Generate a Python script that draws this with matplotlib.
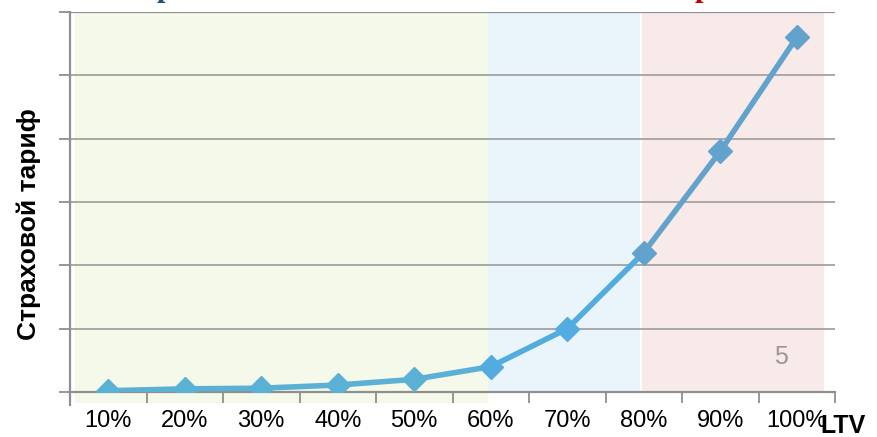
import matplotlib
matplotlib.use('Agg')
import matplotlib.pyplot as plt
from matplotlib.patches import Rectangle

plt.rcParams['font.family'] = ['Liberation Sans', 'DejaVu Sans']

# LTV categories and insurance rate (relative units, one grid step = 1)
ltv_labels = ['10%', '20%', '30%', '40%', '50%', '60%', '70%', '80%', '90%', '100%']
tariff = [0.02, 0.05, 0.06, 0.11, 0.2, 0.4, 1.0, 2.2, 3.8, 5.6]

# background zones: (start, end, colour) in category units
zones = [(-0.43, 4.96, '#f5f9ea'), (4.96, 6.95, '#eaf5fb'), (6.98, 9.35, '#f9eaea')]
line_colors = ['#5bb0d5', '#52acdf', '#62a3ce']

fig = plt.figure(figsize=(8.77, 4.37), dpi=100)
ax = fig.add_axes([70 / 877, 1 - 392 / 437, 765 / 877, 380 / 437])

x = list(range(len(ltv_labels)))
ax.set_xlim(-0.5, 9.5)
ax.set_ylim(0, 6)

# zones (green one runs a bit below the axis)
for i, (x0, x1, c) in enumerate(zones):
    y0 = -0.17 if i == 0 else 0
    ax.add_patch(Rectangle((x0, y0), x1 - x0, 6 - y0, facecolor=c, edgecolor='none',
                           clip_on=False, zorder=0))

for g in range(1, 7):
    ax.axhline(g, color='#8f8f8f' if g == 6 else '#a3a3a3', lw=1.6 if g == 6 else 1.3, zorder=1)

# line, coloured per zone
for i in range(len(x) - 1):
    mid = (x[i] + x[i + 1]) / 2
    c = line_colors[0] if mid < 4.96 else (line_colors[1] if mid < 6.97 else line_colors[2])
    ax.plot(x[i:i + 2], tariff[i:i + 2], color=c, lw=4, solid_capstyle='round', zorder=3)
for i in range(len(x)):
    c = line_colors[0] if x[i] < 4.96 else (line_colors[1] if x[i] < 6.97 else line_colors[2])
    ax.plot(x[i], tariff[i], marker='D', ms=12, color=c, mec=c, zorder=4)

for s in ['top', 'right']:
    ax.spines[s].set_visible(False)
ax.spines['left'].set_color('#8f8f8f')
ax.spines['bottom'].set_color('#8f8f8f')
ax.spines['left'].set_linewidth(1.6)
ax.spines['bottom'].set_linewidth(1.6)
ax.spines['left'].set_bounds(-0.2, 6)

ax.set_yticks(range(0, 7))
ax.set_yticklabels([])
ax.tick_params(axis='y', length=8, color='#8f8f8f', width=1.3)

ax.set_xticks([i + 0.5 for i in range(-1, 10)])
ax.set_xticklabels([])
ax.set_xticks(x, minor=True)
ax.set_xticklabels(ltv_labels, minor=True, fontsize=17)
ax.tick_params(axis='x', which='major', length=8, color='#8f8f8f', width=1.3)
ax.tick_params(axis='x', which='minor', length=0, pad=13)

fig.text(29 / 877, 1 - 224 / 437, 'Страховой тариф', rotation=90, ha='center', va='center',
         fontsize=19, fontweight='bold')
fig.text(843 / 877, 1 - 426 / 437, 'LTV', ha='center', va='center', fontsize=18, fontweight='bold')
ax.text(8.8, 0.55, '5', color='#a09595', fontsize=18, ha='center', va='center', zorder=5)

# bottoms of the clipped heading above the plot
fig.text(165 / 877, 1 + 4 / 437, 'р', color='#1f4e79', fontsize=22, fontweight='bold',
         family='Liberation Serif', ha='center', va='baseline')
fig.text(703 / 877, 1 + 4 / 437, 'р', color='#c00000', fontsize=22, fontweight='bold',
         family='Liberation Serif', ha='center', va='baseline')

fig.savefig('out.png', dpi=100)
